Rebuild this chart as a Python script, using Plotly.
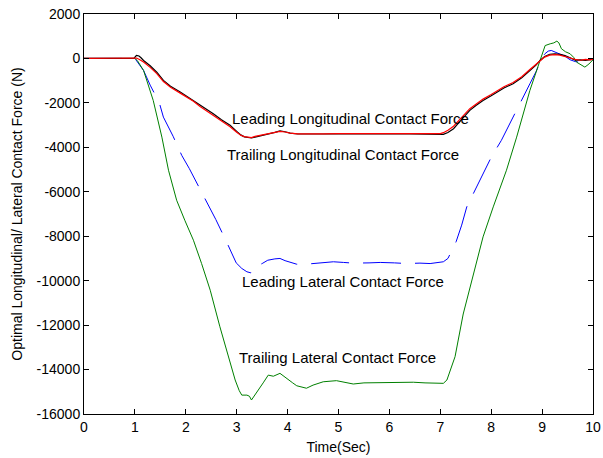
import plotly.graph_objects as go

# Leading longitudinal contact force (black)
t_lead_lon = [0, 0.98, 1.03, 1.08, 1.12, 1.17, 1.3, 1.43, 1.56, 1.7, 1.89, 2.0, 2.15, 2.28, 2.4, 2.54, 2.7, 2.87, 3.0, 3.08, 3.15, 3.22, 3.29, 3.36, 3.45, 3.55, 3.65, 3.75, 3.85, 3.95, 4.05, 4.2, 4.4, 4.7, 5.0, 5.3, 5.6, 6.0, 6.4, 6.8, 7.0, 7.06, 7.15, 7.26, 7.4, 7.58, 7.7, 7.84, 8.0, 8.11, 8.25, 8.43, 8.6, 8.76, 8.88, 8.96, 9.05, 9.15, 9.25, 9.35, 9.45, 9.55, 9.65, 9.75, 9.85, 9.95, 10]
f_lead_lon = [0, 0, 140, 110, 30, -90, -330, -620, -990, -1250, -1515, -1680, -1880, -2110, -2290, -2485, -2760, -3010, -3280, -3440, -3530, -3570, -3580, -3540, -3500, -3440, -3380, -3330, -3260, -3300, -3360, -3400, -3410, -3400, -3390, -3400, -3410, -3400, -3390, -3390, -3400, -3415, -3330, -3160, -2800, -2337, -2120, -1890, -1680, -1515, -1330, -1137, -870, -540, -300, -90, 90, 190, 210, 180, 130, 30, -80, -60, -90, -50, -30]

# Trailing longitudinal contact force (red)
t_trail_lon = [0, 0.98, 1.03, 1.08, 1.12, 1.17, 1.3, 1.43, 1.56, 1.7, 1.89, 2.0, 2.15, 2.28, 2.4, 2.54, 2.7, 2.87, 3.0, 3.08, 3.15, 3.22, 3.29, 3.36, 3.45, 3.55, 3.65, 3.75, 3.85, 3.95, 4.05, 4.2, 4.4, 4.7, 5.0, 5.3, 5.6, 6.0, 6.4, 6.8, 7.0, 7.06, 7.15, 7.26, 7.4, 7.58, 7.7, 7.84, 8.0, 8.11, 8.25, 8.43, 8.6, 8.76, 8.88, 8.96, 9.05, 9.15, 9.25, 9.35, 9.45, 9.55, 9.65, 9.75, 9.85, 9.95, 10]
f_trail_lon = [0, 0, 20, -40, -80, -160, -400, -680, -1040, -1300, -1560, -1720, -1930, -2160, -2340, -2540, -2810, -3070, -3320, -3460, -3520, -3540, -3560, -3510, -3470, -3430, -3400, -3330, -3280, -3310, -3360, -3390, -3400, -3390, -3380, -3390, -3390, -3380, -3380, -3380, -3380, -3340, -3230, -3050, -2700, -2260, -2060, -1830, -1620, -1460, -1270, -1080, -820, -500, -270, -80, 60, 150, 170, 150, 100, 20, -40, -80, -40, -60, -30]

# Leading lateral contact force (blue, dashed)
t_lead_lat = [0, 1.0, 1.17, 1.3, 1.48, 1.56, 1.75, 1.92, 2.07, 2.25, 2.46, 2.59, 2.8, 2.99, 3.1, 3.2, 3.28, 3.36, 3.5, 3.61, 3.75, 3.85, 3.95, 4.18, 4.4, 4.6, 4.9, 5.1, 5.29, 5.6, 5.82, 6.1, 6.34, 6.6, 6.8, 7.06, 7.15, 7.31, 7.42, 7.52, 7.71, 7.84, 8.0, 8.2, 8.4, 8.63, 8.76, 8.88, 8.96, 9.05, 9.12, 9.18, 9.25, 9.35, 9.45, 9.55, 9.65, 9.74, 9.85, 10]
f_lead_lat = [0, 0, -540, -1200, -2000, -2640, -3500, -4360, -4960, -5750, -6610, -7250, -8250, -9200, -9450, -9600, -9650, -9380, -9230, -9080, -9020, -9000, -9100, -9260, -9250, -9200, -9150, -9180, -9210, -9200, -9180, -9200, -9230, -9210, -9230, -9150, -9000, -8250, -7500, -6680, -5780, -5180, -4450, -3685, -2750, -1740, -1140, -600, -165, 200, 330, 360, 290, 200, 100, -60, -140, -170, -120, -60]

# Trailing lateral contact force (green)
t_trail_lat = [0, 1.0, 1.05, 1.17, 1.36, 1.53, 1.66, 1.82, 1.98, 2.15, 2.31, 2.48, 2.67, 2.82, 2.97, 3.05, 3.1, 3.2, 3.25, 3.29, 3.36, 3.43, 3.52, 3.62, 3.72, 3.85, 3.92, 4.01, 4.1, 4.18, 4.28, 4.37, 4.5, 4.7, 4.96, 5.1, 5.29, 5.5, 5.82, 6.1, 6.47, 6.7, 7.06, 7.13, 7.29, 7.45, 7.65, 7.84, 8.04, 8.3, 8.5, 8.76, 8.96, 9.06, 9.16, 9.23, 9.29, 9.33, 9.38, 9.46, 9.55, 9.62, 9.68, 9.76, 9.84, 9.92, 10]
f_trail_lat = [0, 0, -100, -540, -1890, -3540, -5030, -6380, -7280, -8180, -9230, -10430, -12075, -13300, -14470, -14950, -15150, -15150, -15200, -15370, -15150, -14920, -14600, -14250, -14300, -14170, -14300, -14470, -14600, -14730, -14800, -14840, -14700, -14550, -14500, -14560, -14650, -14600, -14590, -14600, -14570, -14600, -14620, -14470, -13420, -11500, -9680, -8030, -6680, -5030, -3540, -1440, -90, 580, 660, 700, 780, 700, 435, 300, 210, 50, -170, -300, -390, -250, -60]

labels = [
    (5.23, -2700, "Leading Longitudinal Contact Force"),
    (5.09, -4315, "Trailing Longitudinal Contact Force"),
    (5.09, -10020, "Leading Lateral Contact Force"),
    (4.98, -13440, "Trailing Lateral Contact Force"),
]

x_ticks = list(range(0, 11))
y_ticks = list(range(-16000, 2001, 2000))
y_ticktext = [str(v) for v in y_ticks]

FONT = "Arial, Liberation Sans"

fig = go.Figure()
fig.add_trace(go.Scatter(x=t_lead_lat, y=f_lead_lat, mode="lines",
                         line=dict(color="#0000ff", width=1, dash="38px,14px")))
fig.add_trace(go.Scatter(x=t_trail_lat, y=f_trail_lat, mode="lines",
                         line=dict(color="#008000", width=1)))
fig.add_trace(go.Scatter(x=t_lead_lon, y=f_lead_lon, mode="lines",
                         line=dict(color="#000000", width=1.2)))
fig.add_trace(go.Scatter(x=t_trail_lon, y=f_trail_lon, mode="lines",
                         line=dict(color="#ff0000", width=1.2)))

for x, y, txt in labels:
    fig.add_annotation(x=x, y=y, text=txt, showarrow=False,
                       font=dict(family=FONT, size=15, color="#000000"))

axis_common = dict(showgrid=False, zeroline=False, showline=True, linecolor="#000000",
                   linewidth=1, mirror="ticks", ticks="inside", ticklen=5,
                   tickcolor="#000000", automargin=False,
                   tickfont=dict(family=FONT, size=14, color="#000000"))

fig.update_layout(
    width=603, height=458,
    margin=dict(l=84, r=10, t=14, b=44),
    paper_bgcolor="#ffffff", plot_bgcolor="#ffffff",
    showlegend=False,
    xaxis=dict(range=[0, 10], tickvals=x_ticks,
               title=dict(text="Time(Sec)", standoff=8,
                          font=dict(family=FONT, size=14, color="#000000")),
               **axis_common),
    yaxis=dict(range=[-16000, 2000], tickvals=y_ticks, ticktext=y_ticktext,
               title=dict(text="Optimal Longitudinal/ Lateral Contact Force (N)", standoff=10,
                          font=dict(family=FONT, size=14, color="#000000")),
               **axis_common),
)

fig.write_html("out.html")
